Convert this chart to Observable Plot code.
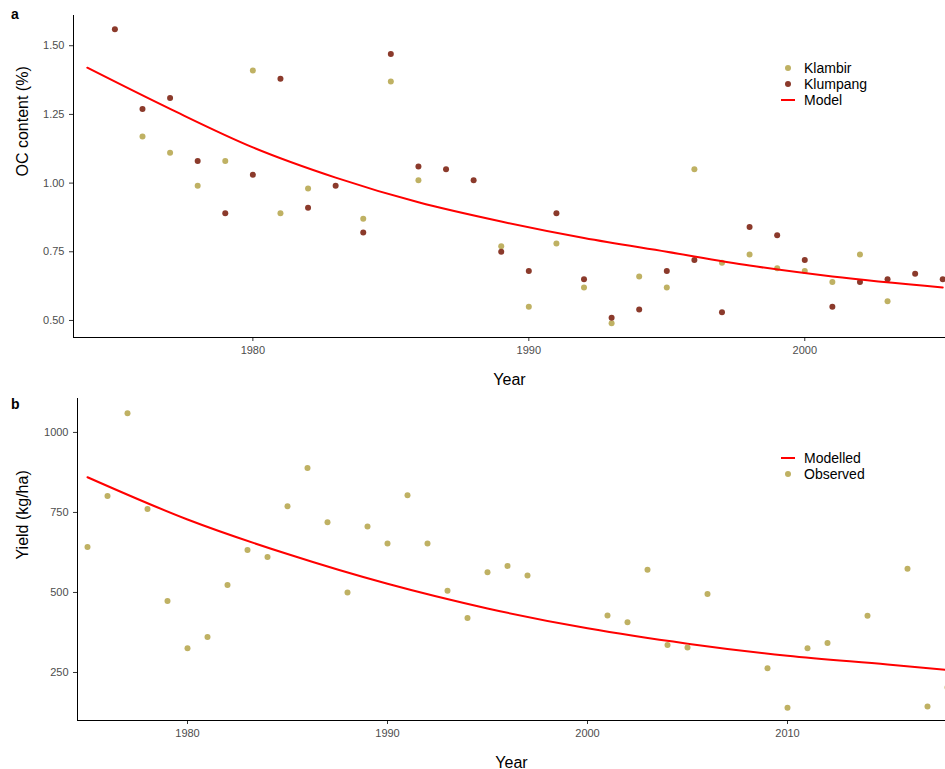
<!DOCTYPE html>
<html>
<head>
<meta charset="utf-8">
<script src="https://cdn.jsdelivr.net/npm/d3@7"></script>
<script src="https://cdn.jsdelivr.net/npm/@observablehq/plot@0.6"></script>
<style>
  body { margin: 0; background: #fff; font-family: "Liberation Sans", Arial, sans-serif; }
  #wrap { position: relative; width: 945px; }
  .tag { position: absolute; font-weight: bold; font-size: 14px; }
  .leg { position: absolute; font-size: 14px; line-height: 16px; color: #000; }
  .leg div { display: flex; align-items: center; height: 16px; }
  .sym { width: 20px; display: inline-flex; justify-content: center; margin-right: 6px; }
  .dot { width: 6px; height: 6px; border-radius: 50%; }
  .ln { width: 14px; height: 2px; background: #ff0000; }
</style>
</head>
<body>
<div id="wrap">
  <div id="graph1"></div>
  <div id="graph2"></div>
  <div class="tag" style="left:11px;top:6px">a</div>
  <div class="tag" style="left:11px;top:396px">b</div>
  <div class="leg" style="left:778px;top:60px">
    <div><span class="sym"><span class="dot" style="background:#bfb163"></span></span>Klambir</div>
    <div><span class="sym"><span class="dot" style="background:#8b3a2b"></span></span>Klumpang</div>
    <div><span class="sym"><span class="ln"></span></span>Model</div>
  </div>
  <div class="leg" style="left:778px;top:450px">
    <div><span class="sym"><span class="ln"></span></span>Modelled</div>
    <div><span class="sym"><span class="dot" style="background:#bfb163"></span></span>Observed</div>
  </div>
</div>
<script>
const klambirYears = [1976,1977,1978,1979,1980,1981,1982,1984,1985,1986,1989,1990,1991,1992,1993,1994,1995,1996,1997,1998,1999,2000,2001,2002,2003];
const klambirOC = [1.17,1.11,0.99,1.08,1.41,0.89,0.98,0.87,1.37,1.01,0.77,0.55,0.78,0.62,0.49,0.66,0.62,1.05,0.71,0.74,0.69,0.68,0.64,0.74,0.57];
const klumpangYears = [1975,1976,1977,1978,1979,1980,1981,1982,1983,1984,1985,1986,1987,1988,1989,1990,1991,1992,1993,1994,1995,1996,1997,1998,1999,2000,2001,2002,2003,2004,2005];
const klumpangOC = [1.56,1.27,1.31,1.08,0.89,1.03,1.38,0.91,0.99,0.82,1.47,1.06,1.05,1.01,0.75,0.68,0.89,0.65,0.51,0.54,0.68,0.72,0.53,0.84,0.81,0.72,0.55,0.64,0.65,0.67,0.65];
const modelOCYears = [1974,1977,1980,1983,1986,1989,1992,1995,1998,2001,2005];
const modelOC = [1.42,1.27,1.13,1.02,0.93,0.86,0.80,0.75,0.70,0.66,0.62];

const yieldYears = [1975,1976,1977,1978,1979,1980,1981,1982,1983,1984,1985,1986,1987,1988,1989,1990,1991,1992,1993,1994,1995,1996,1997,2001,2002,2003,2004,2005,2006,2009,2010,2011,2012,2014,2016,2017,2018];
const yieldObs = [642,801,1060,761,473,326,361,523,633,611,769,889,719,500,706,653,804,653,505,420,563,583,553,428,407,571,336,328,495,263,140,326,342,427,574,144,203];
const modelYieldYears = [1975,1980,1985,1990,1995,2000,2005,2010,2015,2018];
const modelYield = [860,728,620,527,450,388,340,302,275,258];

const tan = "#bfb163", brown = "#8b3a2b";

function panel(divId, opts) {
  const chart = Plot.plot({
    width: 945, height: opts.height,
    marginLeft: opts.left, marginRight: 0, marginTop: opts.top, marginBottom: opts.bottom,
    style: { fontFamily: "Liberation Sans, Arial, sans-serif", fontSize: "11px", color: "#000" },
    x: { domain: opts.xdom },
    y: { domain: opts.ydom },
    marks: [
      Plot.axisX({ ticks: opts.xticks, tickFormat: d => String(d), tickSize: 4, stroke: "#333", fill: "#4d4d4d", label: "Year", labelAnchor: "center", labelArrow: "none", labelOffset: 47 }),
      Plot.axisY({ ticks: opts.yticks, tickFormat: opts.yfmt, tickSize: 4, stroke: "#333", fill: "#4d4d4d", label: null }),
      Plot.text([opts.ylabel], { frameAnchor: "left", dx: -opts.left + 22, rotate: -90, fontSize: 16, fill: "#000" }),
      Plot.ruleX([opts.xdom[0]], { stroke: "#000" }),
      Plot.ruleY([opts.ydom[0]], { stroke: "#000" }),
      ...opts.marks
    ]
  });
  chart.querySelectorAll("[aria-label='x-axis label'] text, [aria-label='x-axis label']").forEach(t => { t.style.fontSize = "16px"; t.setAttribute("fill", "#000"); });
  document.getElementById(divId).appendChild(chart);
}

panel("graph1", {
  height: 392, left: 73, top: 15, bottom: 55,
  xdom: [1973.5, 2005.1], ydom: [0.438, 1.61],
  xticks: [1980, 1990, 2000], yticks: [0.5, 0.75, 1.0, 1.25, 1.5], yfmt: d3.format(".2f"),
  ylabel: "OC content (%)",
  marks: [
    Plot.dot(klambirYears, { x: d => d, y: (d, i) => klambirOC[i], r: 3, fill: tan, clip: true }),
    Plot.dot(klumpangYears, { x: d => d, y: (d, i) => klumpangOC[i], r: 3, fill: brown, clip: true }),
    Plot.line(modelOCYears, { x: d => d, y: (d, i) => modelOC[i], stroke: "#ff0000", strokeWidth: 2, curve: "monotone-x" })
  ]
});

panel("graph2", {
  height: 377, left: 77, top: 6, bottom: 49,
  xdom: [1974.5, 2017.9], ydom: [100, 1106],
  xticks: [1980, 1990, 2000, 2010], yticks: [250, 500, 750, 1000], yfmt: d => String(d),
  ylabel: "Yield (kg/ha)",
  marks: [
    Plot.line(modelYieldYears, { x: d => d, y: (d, i) => modelYield[i], stroke: "#ff0000", strokeWidth: 2, curve: "monotone-x", clip: true }),
    Plot.dot(yieldYears, { x: d => d, y: (d, i) => yieldObs[i], r: 3, fill: tan, clip: true })
  ]
});
</script>
</body>
</html>
